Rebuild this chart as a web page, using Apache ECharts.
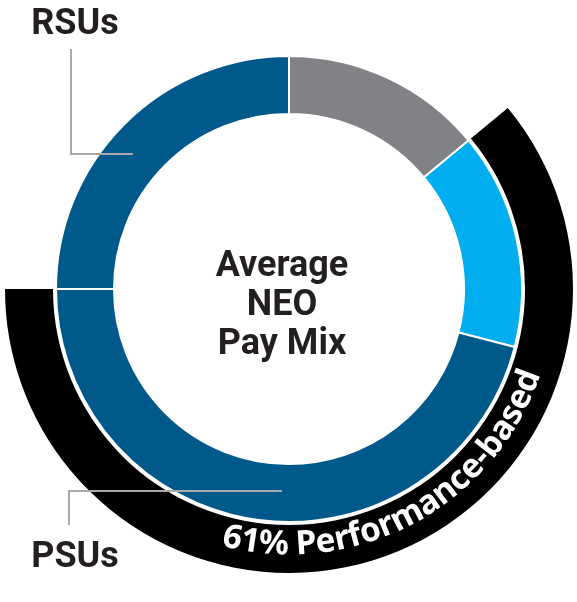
<!DOCTYPE html>
<html><head><meta charset="utf-8">
<script src="https://cdn.jsdelivr.net/npm/echarts@6/dist/echarts.min.js"></script>
<style>html,body{margin:0;padding:0;background:#fff}#c{width:577px;height:602px}</style>
</head><body><div id="c"></div>
<script>
const categories = ['Base Salary', 'Annual Incentive', 'PSUs', 'RSUs'];
const values = [14, 15, 46, 25];
const colors = ['#808285', '#00aeef', '#00598b', '#00598b'];
const performanceShare = 61;
const performanceLabel = '61% Performance-based';
const centerTitle = ['Average', 'NEO', 'Pay Mix'];
const calloutLabels = ['RSUs', 'PSUs'];

const cx = 289, cy = 289;
const chart = echarts.init(document.getElementById('c'), null, {renderer: 'canvas'});

// curved label along the performance arc
const fontFamily = '"Noto Sans", "Open Sans", sans-serif';
const Rb = 268;               // baseline radius
const spanDeg = 86;           // angular span of the label
const centerDeg = 151.8;      // clockwise from top
const mctx = document.createElement('canvas').getContext('2d');
mctx.font = 'bold 32px ' + fontFamily;
const fontSize = Math.round(32 * (spanDeg * Math.PI / 180 * Rb) / mctx.measureText(performanceLabel).width * 10) / 10;
mctx.font = 'bold ' + fontSize + 'px ' + fontFamily;
const totalW = mctx.measureText(performanceLabel).width;
const Rm = Rb - fontSize * 0.36;   // radius of glyph middle
const thetaStart = centerDeg * Math.PI / 180 + (totalW / 2) / Rb;
const curved = [];
for (let i = 0; i < performanceLabel.length; i++) {
  const ch = performanceLabel[i];
  const pre = mctx.measureText(performanceLabel.slice(0, i)).width;
  const w = mctx.measureText(ch).width;
  const th = thetaStart - (pre + w / 2) / Rb;
  curved.push({
    type: 'text', z: 100,
    x: cx + Rm * Math.sin(th), y: cy - Rm * Math.cos(th),
    rotation: Math.PI - th,
    style: {text: ch, fill: '#fff', fontSize: fontSize, fontWeight: 'bold', fontStyle: 'normal', fontFamily: fontFamily, align: 'center', verticalAlign: 'middle'}
  });
}

const lineStyle = {stroke: '#a7a9ac', lineWidth: 2, fill: null};
const labelStyle = {fill: '#231f20', fontSize: 36, fontWeight: 'bold', fontFamily: 'Roboto', align: 'center', verticalAlign: 'middle'};

chart.setOption({
  animation: false,
  backgroundColor: '#fff',
  series: [
    {
      type: 'pie', silent: true, center: [cx, cy], radius: [175, 233], startAngle: 90, clockwise: true,
      label: {show: false}, labelLine: {show: false},
      itemStyle: {borderColor: '#fff', borderWidth: 2},
      data: categories.map((n, i) => ({name: n, value: values[i], itemStyle: {color: colors[i]}}))
    },
    {
      type: 'pie', silent: true, center: [cx, cy], radius: [236, 284], startAngle: 90, clockwise: true,
      label: {show: false}, labelLine: {show: false},
      data: [
        {name: 'before', value: values[0], itemStyle: {color: 'rgba(0,0,0,0)'}},
        {name: 'Performance-based', value: performanceShare, itemStyle: {color: '#000'}},
        {name: 'after', value: 100 - values[0] - performanceShare, itemStyle: {color: 'rgba(0,0,0,0)'}}
      ]
    }
  ],
  graphic: [
    {type: 'text', z: 100, x: 282, y: 306, style: Object.assign({}, labelStyle, {text: centerTitle.join('\n'), lineHeight: 39})},
    {type: 'text', z: 100, x: 75, y: 25, style: Object.assign({}, labelStyle, {text: calloutLabels[0]})},
    {type: 'text', z: 100, x: 75, y: 558, style: Object.assign({}, labelStyle, {text: calloutLabels[1]})},
    {type: 'polyline', z: 100, shape: {points: [[71, 49], [71, 154], [133, 154]]}, style: lineStyle},
    {type: 'polyline', z: 100, shape: {points: [[69, 525], [69, 491], [282, 491]]}, style: lineStyle}
  ].concat(curved)
});
</script></body></html>
